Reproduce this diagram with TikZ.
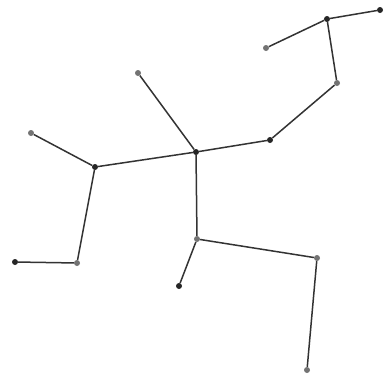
\documentclass[tikz,border=0pt]{standalone}
\begin{document}
\begin{tikzpicture}[x=1pt,y=-1pt,
  dk/.style={circle,fill=black!85,inner sep=0pt,minimum size=6pt},
  gr/.style={circle,fill=black!55,inner sep=0pt,minimum size=6pt},
  edge/.style={draw=black!80,line width=1.5pt}]
\useasboundingbox[fill=white] (0,0) rectangle (384,378);
\node[dk] (A) at (380,10) {};
\node[dk] (B) at (327,19) {};
\node[gr] (C) at (266,48) {};
\node[gr] (D) at (337,83) {};
\node[dk] (E) at (270,140) {};
\node[dk] (F) at (196,152) {};
\node[gr] (G) at (138,73) {};
\node[gr] (H) at (31,133) {};
\node[dk] (I) at (95,167) {};
\node[gr] (J) at (77,263) {};
\node[dk] (K) at (15,262) {};
\node[gr] (L) at (197,239) {};
\node[dk] (M) at (179,286) {};
\node[gr] (N) at (317,258) {};
\node[gr] (O) at (307,370) {};
\draw[edge] (A) -- (B);
\draw[edge] (B) -- (C);
\draw[edge] (B) -- (D);
\draw[edge] (D) -- (E);
\draw[edge] (E) -- (F);
\draw[edge] (F) -- (G);
\draw[edge] (F) -- (I);
\draw[edge] (I) -- (H);
\draw[edge] (I) -- (J);
\draw[edge] (J) -- (K);
\draw[edge] (F) -- (L);
\draw[edge] (L) -- (M);
\draw[edge] (L) -- (N);
\draw[edge] (N) -- (O);
\end{tikzpicture}
\end{document}
